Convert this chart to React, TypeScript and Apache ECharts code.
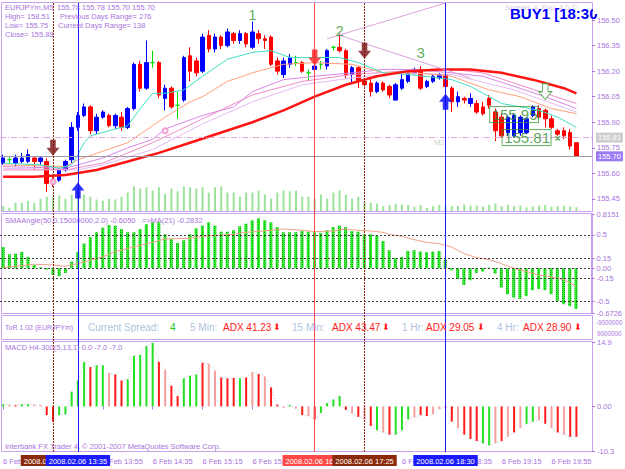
import React, { useEffect, useRef } from "react";
import * as echarts from "echarts";

const FONT = "'Liberation Sans', Arial, sans-serif";
const VIOLET = "#a874dc";
const FRAME = "#c9a2ec";
const BULL = "#0000ff";
const BEAR = "#ff0000";
const DOJI = "#00dd00";

const slotCount = 95;
const xTickLabels = ["6 Feb 12:35", "6 Feb 13:15", "6 Feb 13:55", "6 Feb 14:35", "6 Feb 15:15", "6 Feb 15:55", "6 Feb 16:35", "6 Feb 17:15", "6 Feb 17:55", "6 Feb 18:35", "6 Feb 19:15", "6 Feb 19:55"];

// [open, close, low, high]
const candles: number[][] = [
  [155.66, 155.69, 155.65, 155.71], [155.68, 155.68, 155.66, 155.70], [155.66, 155.69, 155.64, 155.71], [155.67, 155.69, 155.66, 155.72],
  [155.67, 155.71, 155.66, 155.74], [155.69, 155.67, 155.62, 155.70], [155.67, 155.69, 155.65, 155.70], [155.67, 155.54, 155.49, 155.69],
  [155.56, 155.55, 155.52, 155.58], [155.56, 155.62, 155.55, 155.63], [155.62, 155.67, 155.61, 155.68], [155.68, 155.87, 155.66, 155.90],
  [155.87, 155.94, 155.85, 155.96], [155.94, 155.99, 155.93, 156.01], [155.99, 155.85, 155.83, 156.00], [155.85, 155.93, 155.83, 155.95],
  [155.93, 155.96, 155.92, 155.97], [155.94, 155.88, 155.87, 155.95], [155.88, 155.94, 155.86, 155.95], [155.93, 155.87, 155.85, 155.96],
  [155.87, 155.98, 155.86, 155.99], [155.98, 156.24, 155.97, 156.25], [156.24, 156.10, 156.08, 156.26], [156.10, 156.25, 156.09, 156.38],
  [156.25, 156.25, 156.22, 156.32], [156.25, 156.06, 156.04, 156.26], [156.04, 156.10, 155.97, 156.12], [156.10, 155.99, 155.98, 156.11],
  [156.00, 156.00, 155.92, 156.08], [156.03, 156.28, 156.02, 156.29], [156.29, 156.20, 156.14, 156.34], [156.26, 156.19, 156.17, 156.28],
  [156.20, 156.40, 156.19, 156.42], [156.41, 156.33, 156.31, 156.44], [156.33, 156.40, 156.31, 156.42], [156.40, 156.35, 156.33, 156.41],
  [156.35, 156.43, 156.34, 156.45], [156.42, 156.38, 156.36, 156.43], [156.38, 156.42, 156.36, 156.44], [156.42, 156.36, 156.34, 156.43],
  [156.34, 156.43, 156.33, 156.49], [156.42, 156.39, 156.36, 156.44], [156.39, 156.38, 156.33, 156.41], [156.40, 156.24, 156.23, 156.41],
  [156.26, 156.20, 156.18, 156.28], [156.18, 156.26, 156.16, 156.28], [156.24, 156.28, 156.22, 156.30], [156.25, 156.25, 156.23, 156.29],
  [156.25, 156.20, 156.19, 156.26], [156.19, 156.19, 156.14, 156.21], [156.21, 156.23, 156.19, 156.24], [156.24, 156.24, 156.21, 156.26],
  [156.23, 156.32, 156.21, 156.33], [156.34, 156.34, 156.32, 156.35], [156.34, 156.32, 156.31, 156.42], [156.32, 156.18, 156.16, 156.33],
  [156.18, 156.22, 156.13, 156.23], [156.22, 156.14, 156.10, 156.23], [156.14, 156.12, 156.11, 156.15], [156.13, 156.08, 156.05, 156.16],
  [156.08, 156.13, 156.07, 156.14], [156.13, 156.09, 156.08, 156.14], [156.11, 156.06, 156.04, 156.12], [156.03, 156.12, 156.03, 156.13],
  [156.10, 156.15, 156.09, 156.20], [156.14, 156.19, 156.13, 156.20], [156.19, 156.21, 156.18, 156.22], [156.21, 156.10, 156.09, 156.23],
  [156.11, 156.14, 156.10, 156.15], [156.14, 156.17, 156.13, 156.18], [156.16, 156.18, 156.15, 156.19], [156.18, 156.11, 156.10, 156.19],
  [156.10, 156.02, 155.96, 156.11], [156.02, 156.05, 155.99, 156.08], [156.04, 156.03, 156.01, 156.05], [156.01, 156.04, 155.99, 156.07],
  [156.01, 155.96, 155.95, 156.03], [155.99, 155.95, 155.94, 156.02], [156.04, 156.00, 155.98, 156.06], [155.96, 155.85, 155.79, 155.98],
  [155.93, 155.82, 155.81, 155.95], [155.84, 155.93, 155.82, 155.94], [155.82, 155.94, 155.81, 155.95], [155.84, 155.93, 155.82, 155.94],
  [155.84, 155.92, 155.83, 155.93], [155.94, 155.99, 155.93, 156.00], [155.98, 155.93, 155.92, 156.00], [155.97, 155.92, 155.87, 155.98],
  [155.92, 155.87, 155.86, 155.94], [155.85, 155.83, 155.82, 155.86], [155.85, 155.82, 155.80, 155.87], [155.84, 155.76, 155.74, 155.86],
  [155.78, 155.70, 155.70, 155.78],
];

const volume = [12, 8, 20, 20, 25, 20, 30, 35, 33, 38, 30, 40, 55, 40, 35, 28, 25, 30, 28, 35, 45, 60, 55, 58, 50, 58, 42, 55, 48, 60, 58, 55, 58, 45, 58, 60, 45, 45, 35, 45, 45, 50, 40, 30, 45, 50, 48, 50, 35, 35, 30, 40, 30, 45, 50, 40, 30, 35, 20, 20, 18, 12, 15, 18, 16, 15, 10, 14, 8, 12, 15, 11, 12, 12, 16, 13, 13, 11, 15, 18, 12, 15, 12, 13, 9, 11, 13, 15, 11, 12, 13, 11, 9];

// moving averages as [bar, price]
const maSlow = [[0, 155.58], [5, 155.58], [10, 155.59], [15, 155.62], [20, 155.67], [25, 155.72], [30, 155.78], [35, 155.84], [40, 155.90], [45, 155.97], [50, 156.05], [55, 156.12], [60, 156.17], [65, 156.20], [70, 156.21], [75, 156.21], [80, 156.19], [85, 156.15], [90, 156.10], [92, 156.07]];
const maFast = [[0, 155.66], [6, 155.65], [9, 155.63], [11, 155.65], [12, 155.71], [13, 155.78], [14, 155.82], [16, 155.84], [20, 155.88], [22, 155.98], [24, 156.07], [26, 156.07], [29, 156.09], [32, 156.17], [36, 156.27], [40, 156.31], [43, 156.32], [46, 156.28], [50, 156.28], [54, 156.28], [57, 156.25], [61, 156.19], [65, 156.18], [70, 156.16], [72, 156.15], [75, 156.11], [80, 156.01], [86, 155.97], [89, 155.93], [92, 155.87]];
const maMid = [[0, 155.65], [10, 155.64], [12, 155.68], [16, 155.73], [20, 155.78], [22, 155.83], [24, 155.88], [26, 155.93], [30, 156.02], [32, 156.05], [36, 156.14], [40, 156.19], [45, 156.24], [50, 156.25], [56, 156.24], [61, 156.19], [66, 156.19], [72, 156.17], [78, 156.09], [83, 156.05], [88, 155.98], [92, 155.95]];
const maViolet = [[0, 155.64], [10, 155.63], [16, 155.69], [20, 155.75], [24, 155.80], [26, 155.86], [32, 155.94], [37, 155.99], [40, 156.08], [45, 156.15], [50, 156.17], [56, 156.19], [61, 156.21], [66, 156.21], [72, 156.19], [77, 156.17], [82, 156.11], [87, 156.05], [92, 155.98]];
const maPink = [[0, 155.62], [10, 155.62], [16, 155.66], [24, 155.78], [32, 155.92], [40, 156.06], [48, 156.14], [56, 156.18], [64, 156.20], [72, 156.21], [77, 156.19], [82, 156.13], [87, 156.07], [92, 156.01]];
const maPlum = [[0, 155.63], [12, 155.62], [16, 155.65], [24, 155.74], [32, 155.89], [40, 156.02], [48, 156.12], [56, 156.16], [64, 156.19], [72, 156.18], [82, 156.09], [92, 155.96]];
const trendUp = [[52, 156.39], [71, 156.60]];
const trendDown = [[54, 156.41], [75, 156.16]];

const arrowsDownDark = [[8, 155.75], [58, 156.32]];
const arrowsDownRed = [[50, 156.28]];
const arrowsUpBlue = [[12, 155.50], [71, 156.02]];
const arrowsDownHollow = [[87, 156.08]];
const waveLabels = [{ name: "1", value: [40, 156.53] }, { name: "2", value: [54, 156.44] }, { name: "3", value: [67, 156.31] }];
const priceBoxes = [{ name: "155.95", value: [77.6, 155.945] }, { name: "155.81", value: [79.8, 155.81] }];
const maDots = [[8, 155.55], [26, 155.85]];

const mainTicks = [155.45, 155.60, 155.75, 155.90, 156.05, 156.20, 156.35, 156.50];
const bidPrice = 155.70;
const levelPrice = 155.81;

const smaAngle = [0.32, 0.21, 0.22, 0.245, 0.17, 0.05, 0.015, -0.02, -0.10, -0.12, -0.07, 0.10, 0.245, 0.37, 0.47, 0.54, 0.61, 0.65, 0.64, 0.59, 0.54, 0.54, 0.59, 0.66, 0.69, 0.69, 0.51, 0.44, 0.38, 0.42, 0.51, 0.60, 0.64, 0.69, 0.64, 0.55, 0.55, 0.57, 0.63, 0.67, 0.72, 0.75, 0.72, 0.69, 0.62, 0.54, 0.54, 0.54, 0.56, 0.55, 0.54, 0.53, 0.57, 0.62, 0.64, 0.62, 0.56, 0.55, 0.51, 0.51, 0.49, 0.41, 0.27, 0.15, 0.17, 0.26, 0.27, 0.25, 0.24, 0.25, 0.26, 0.13, -0.03, -0.16, -0.25, -0.18, -0.07, -0.05, 0.01, -0.08, -0.29, -0.39, -0.44, -0.46, -0.42, -0.33, -0.31, -0.33, -0.39, -0.49, -0.54, -0.57, -0.61];
const smaMA = [[0, 0.01], [1, 0.02], [5, 0.06], [8, 0.05], [10, 0.03], [12, 0.07], [14, 0.12], [16, 0.17], [18, 0.25], [21, 0.32], [24, 0.39], [26, 0.44], [30, 0.45], [32, 0.48], [34, 0.49], [37, 0.51], [39, 0.54], [42, 0.56], [45, 0.59], [48, 0.57], [50, 0.55], [53, 0.56], [55, 0.59], [57, 0.57], [59, 0.56], [61, 0.54], [62, 0.51], [64, 0.48], [66, 0.43], [68, 0.39], [70, 0.37], [72, 0.32], [74, 0.22], [76, 0.16], [78, 0.13], [80, 0.07], [82, 0.0], [84, -0.05], [86, -0.10], [88, -0.13], [90, -0.17], [91, -0.22], [92, -0.28]];
const smaLevels = [0.5, 0.15, 0, -0.15, -0.5];
const smaTicks = [0.8151, 0.5, 0.15, 0, -0.15, -0.5, -0.6726];
const smaTickText = ["0.8151", "0.5", "0.15", "0.00", "-0.15", "-0.5", "-0.6726"];

const macd = [0.5, 0.4, 0.3, 0.5, 0.5, 0.4, 0.3, -2.0, -3.5, -2.0, -1.8, 3.4, 6.0, 10.3, 9.1, 9.5, 9.5, 7.7, 7.4, 6.0, 6.3, 11.7, 11.9, 14.0, 14.7, 10.3, 8.5, 4.8, 2.4, 6.5, 7.1, 7.4, 10.1, 9.9, 8.3, 6.7, 6.5, 6.6, 6.5, 6.7, 7.9, 7.5, 6.9, 4.4, 0.4, -0.3, 0.3, -0.5, -2.0, -2.2, -3.0, -1.5, 0.8, 1.6, 2.4, -0.8, -1.6, -2.4, -3.0, -4.5, -5.5, -6.0, -6.5, -6.5, -5.5, -3.0, -2.5, -2.0, -2.2, -1.8, -0.6, -0.2, -3.5, -5.0, -6.5, -7.5, -8.0, -8.5, -9.0, -8.5, -8.0, -7.0, -6.0, -5.0, -4.0, -3.5, -3.2, -4.0, -5.0, -6.0, -6.5, -7.0, -7.0];
const macdColor = "GPRGGPPRRGGGGGRGGPRRGGGGGRPRRGGGRPPRRRGRPRPRRPGPRPRGGGGRPRPRGPRGGGPRRPPRRPRRRGGPRPRPGGPRPRPRR";
const macdTicks = [14.9, 0, -10.3];
const macdTickText = ["14.9", "0.00", "-10.3"];

const vLines = [
  { bar: 8, color: "#8b2a0a", type: [2, 1], text: "2008.02.06 13:15" },
  { bar: 12, color: "#1a1aff", type: "solid", text: "2008.02.06 13:35" },
  { bar: 50, color: "#ff4848", type: "solid", text: "2008.02.06 16:45" },
  { bar: 58, color: "#8b2a0a", type: [2, 1], text: "2008.02.06 17:25" },
  { bar: 71, color: "#1a1aff", type: "solid", text: "2008.02.06 18:30" },
];

const DOWN = "path://M4,0 L10,0 L10,8 L14,8 L7,16 L0,8 L4,8 Z";
const UP = "path://M7,0 L14,8 L10,8 L10,16 L4,16 L4,8 L0,8 Z";

function txt(x: number, y: number, text: string, color: string, size = 7.5, extra: any = {}) {
  return { type: "text", x, y, z: 50, silent: true, style: { text, fill: color, font: `${extra.weight || "normal"} ${size}px ${extra.family || FONT}`, textVerticalAlign: "middle", textAlign: extra.align || "left" } };
}

export default function App() {
  const ref = useRef<HTMLDivElement>(null);
  useEffect(() => {
    const chart = echarts.init(ref.current!, null, { renderer: "svg" });
    const cats = Array.from({ length: slotCount }, (_, i) => String(i));
    const grids = [
      { left: 0, width: 592, top: 3, height: 208 },
      { left: 0, width: 592, top: 170, height: 41 },
      { left: 0, width: 592, top: 214, height: 99 },
      { left: 0, width: 592, top: 342, height: 109 },
      { left: 0, width: 592, top: 3, height: 449 },
    ];
    const xAxis = grids.map((_, gi) => ({
      type: "category", gridIndex: gi, data: cats, boundaryGap: true,
      show: gi === 3,
      axisLine: { show: false },
      axisTick: { show: gi === 3, interval: 7, alignWithLabel: true, length: 3, lineStyle: { color: VIOLET } },
      axisLabel: {
        show: gi === 3, interval: 7, align: "left", margin: 6, color: VIOLET, fontSize: 7.5, fontFamily: FONT,
        formatter: (_v: string, idx: number) => xTickLabels[idx / 8] || "",
      },
      splitLine: { show: false },
    }));
    const axisCommon = (gi: number, min: number, max: number, ticks: number[] | null, fmt: (v: number) => string, show = true) => ({
      type: "value", gridIndex: gi, position: "right", min, max, show,
      axisLine: { show: true, lineStyle: { color: FRAME } },
      axisTick: ticks ? { show: true, length: 3, customValues: ticks, lineStyle: { color: VIOLET } } : { show: false },
      axisLabel: ticks ? { show: true, customValues: ticks, formatter: fmt, color: VIOLET, fontSize: 7.5, fontFamily: FONT, margin: 5 } : { show: false },
      splitLine: { show: false },
    });
    const yAxis = [
      axisCommon(0, 155.379, 156.60, mainTicks, (v) => v.toFixed(2)),
      { type: "value", gridIndex: 1, min: 0, max: 100, show: false },
      axisCommon(2, -0.6726, 0.8151, smaTicks, (v) => smaTickText[smaTicks.indexOf(v)] ?? ""),
      axisCommon(3, -10.3, 14.9, macdTicks, (v) => macdTickText[macdTicks.indexOf(v)] ?? ""),
      { type: "value", gridIndex: 4, min: 0, max: 1, show: false },
    ];
    const line = (data: number[][], color: string, width = 1, extra: any = {}) => ({
      type: "line", xAxisIndex: 0, yAxisIndex: 0, data, symbol: "none", silent: true,
      lineStyle: { color, width, ...extra }, z: 3,
    });
    const arrowSeries = (data: number[][], symbol: string, color: string, hollow = false) => ({
      type: "scatter", xAxisIndex: 0, yAxisIndex: 0, data, symbol, symbolSize: [13, 16], silent: true, z: 6,
      itemStyle: hollow ? { color: "#ffffff", borderColor: "#2e9b2e", borderWidth: 1 } : { color },
    });
    const macdColors: Record<string, string> = { G: "#22e022", R: "#ff1a1a", P: "#f4a0a0" };

    const series: any[] = [
      {
        type: "candlestick", xAxisIndex: 0, yAxisIndex: 0, barWidth: 4, silent: true, z: 2,
        itemStyle: { color: BULL, color0: BEAR, borderColor: BULL, borderColor0: BEAR, borderWidth: 1 },
        data: candles.map((c) => c[0] === c[1]
          ? { value: c, itemStyle: { color: DOJI, color0: DOJI, borderColor: DOJI, borderColor0: DOJI } }
          : c),
        markLine: {
          silent: true, symbol: "none", animation: false,
          data: [
            { yAxis: levelPrice, lineStyle: { color: "#e2a8dc", type: [6, 2, 1, 2], width: 1 },
              label: { show: true, position: "end", distance: 4, formatter: levelPrice.toFixed(2), color: "#ffffff", backgroundColor: "#cdcdcd", padding: [1, 2], fontSize: 7.5, fontFamily: FONT } },
            { yAxis: bidPrice, lineStyle: { color: "#9a9aaa", type: "solid", width: 1 },
              label: { show: true, position: "end", distance: 4, formatter: bidPrice.toFixed(2), color: "#ffffff", backgroundColor: "#9b7cf4", padding: [1, 2], fontSize: 7.5, fontFamily: FONT } },
          ],
        },
      },
      line(maPlum, "#e6b8f4", 1),
      line(maPink, "#f08cc8", 1),
      line(maViolet, "#d886e8", 1),
      line(maMid, "#ffa07a", 1),
      line(maFast, "#40e0c0", 1),
      line(maSlow, "#ff1414", 2.5),
      line(trendUp, "#dda0dd", 1),
      line(trendDown, "#dda0dd", 1),
      arrowSeries(arrowsDownDark, DOWN, "#7a1010"),
      arrowSeries(arrowsDownRed, DOWN, "#ff2020"),
      arrowSeries(arrowsUpBlue, UP, "#0000ff"),
      arrowSeries(arrowsDownHollow, DOWN, "#2e9b2e", true),
      {
        type: "scatter", xAxisIndex: 0, yAxisIndex: 0, data: maDots, symbol: "emptyCircle", symbolSize: 5, silent: true, z: 5,
        itemStyle: { color: "#f08cc8" },
      },
      {
        type: "scatter", xAxisIndex: 0, yAxisIndex: 0, data: waveLabels, symbolSize: 1, silent: true, z: 7,
        itemStyle: { color: "transparent" },
        label: { show: true, position: "inside", formatter: "{b}", color: "#339933", fontSize: 15, fontFamily: FONT },
      },
      {
        type: "scatter", xAxisIndex: 0, yAxisIndex: 0, data: priceBoxes, symbolSize: 1, silent: true, z: 7,
        itemStyle: { color: "transparent" },
        label: { show: true, position: "right", distance: 0, formatter: "{b}", color: "#2e8b2e", fontSize: 15, fontFamily: FONT, borderColor: "#3a9a3a", borderWidth: 1, padding: [1, 1, 0, 2] },
      },
      {
        type: "scatter", xAxisIndex: 0, yAxisIndex: 0, silent: true, z: 7, symbolSize: 1,
        data: [
          { name: "×", value: [89, 155.81] },
          { name: "M2", value: [70, 155.78], label: { color: "#c4c4c4", fontWeight: "normal", fontSize: 8 } },
        ],
        itemStyle: { color: "transparent" },
        label: { show: true, position: "inside", formatter: "{b}", fontFamily: FONT, color: "#2e8b2e", fontSize: 11, fontWeight: "bold" },
      },
      {
        type: "bar", xAxisIndex: 1, yAxisIndex: 1, data: volume, barWidth: 2, silent: true, z: 1,
        itemStyle: { color: "#9be39b" },
      },
      {
        type: "bar", xAxisIndex: 2, yAxisIndex: 2, data: smaAngle, barWidth: 3, silent: true,
        itemStyle: {
          color: "#2cf02c",
          decal: { symbol: "rect", symbolSize: 1, dashArrayX: [1, 1], dashArrayY: [1, 1], color: "rgba(0,40,0,0.4)" },
        },
        markLine: {
          silent: true, symbol: "none", animation: false, label: { show: false },
          lineStyle: { color: "#3a3a3a", type: [2, 2], width: 1 },
          data: smaLevels.map((v) => ({ yAxis: v })),
        },
      },
      {
        type: "line", xAxisIndex: 2, yAxisIndex: 2, data: smaMA, symbol: "none", silent: true, z: 4,
        lineStyle: { color: "#f4a088", width: 1 },
      },
      {
        type: "bar", xAxisIndex: 3, yAxisIndex: 3, barWidth: 2, silent: true,
        data: macd.map((v, i) => ({ value: v, itemStyle: { color: macdColors[macdColor[i]] } })),
      },
      {
        type: "line", xAxisIndex: 3, yAxisIndex: 3, data: macd, symbol: "none", silent: true, z: 1,
        lineStyle: { color: "#c8c8d8", width: 1, type: [1, 2] },
      },
      {
        type: "line", xAxisIndex: 4, yAxisIndex: 4, data: [[0, 0.5]], symbol: "none", silent: true, z: 8,
        lineStyle: { width: 0 },
        markLine: {
          silent: true, symbol: "none", animation: false,
          data: vLines.map((l) => ({
            xAxis: l.bar,
            lineStyle: { color: l.color, type: l.type, width: 1 },
            label: { show: true, position: "start", distance: 3, formatter: l.text, color: "#ffffff", backgroundColor: l.color, padding: [2, 3, 1, 3], fontSize: 7.5, fontFamily: FONT },
          })),
        },
      },
    ];

    const frames = [[2.5, 211.5], [213.5, 313.5], [315.5, 339.5], [341.5, 451.5]].map(([t, b]) => ({
      type: "rect", z: 0, silent: true, shape: { x: 1.5, y: t, width: 591, height: b - t },
      style: { fill: "none", stroke: FRAME, lineWidth: 1 },
    }));
    const ty = 327;
    const graphic: any[] = [
      ...frames,
      txt(505, 7, "Spread: 4  Exp: 4.0 ©", "#d9c9ea", 7.5),
      { type: "text", x: 510, y: 13, z: 60, silent: true, style: { text: "BUY1 [18:30", fill: "#0000ff", font: `bold 15px ${FONT}`, textVerticalAlign: "middle" } },
      { type: "rect", z: 61, silent: true, shape: { x: 593, y: 0, width: 32, height: 14 }, style: { fill: "#ffffff" } },
      txt(5, 7, "EURJPYm,M5", VIOLET), txt(57, 7, "155.78 155.78 155.70 155.70", VIOLET),
      txt(5, 16, "High= 158.51", VIOLET), txt(60, 16, "Previous Days Range= 276", VIOLET),
      txt(5, 25, "Low= 155.75", VIOLET), txt(58, 25, "Current Days Range= 138", VIOLET),
      txt(5, 34, "Close= 155.88", VIOLET),
      txt(5, 220, "SMAAngle(50,0.15000000,2.0) -0.6050   =>MA(21) -0.2832", VIOLET),
      txt(5, ty, "ToR 1.02 (EURJPYm)", VIOLET, 7),
      txt(88, ty, "Current Spread:", "#b0c4de", 10),
      txt(170, ty, "4", "#22cc22", 10),
      txt(190, ty, "5 Min:", "#b0c4de", 10), txt(223, ty, "ADX 41.23", "#ff2020", 10), txt(273, ty, "⬇", "#ff2020", 9, { family: "DejaVu Sans" }),
      txt(292, ty, "15 Min:", "#b0c4de", 10), txt(332, ty, "ADX 43.47", "#ff2020", 10), txt(382, ty, "⬇", "#ff2020", 9, { family: "DejaVu Sans" }),
      txt(402, ty, "1 Hr:", "#b0c4de", 10), txt(426, ty, "ADX 29.05", "#ff2020", 10), txt(477, ty, "⬇", "#ff2020", 9, { family: "DejaVu Sans" }),
      txt(497, ty, "4 Hr:", "#b0c4de", 10), txt(523, ty, "ADX 28.90", "#ff2020", 10), txt(574, ty, "⬇", "#ff2020", 9, { family: "DejaVu Sans" }),
      txt(596, 322, "-9000000", VIOLET, 6.3), txt(597, 333, "9000000", VIOLET, 6.3),
      txt(5, 347, "MACD H4-300(5,13,1) 0.0 -7.0 -7.0", VIOLET),
      txt(5, 446, "Interbank FX Trader 4, © 2001-2007 MetaQuotes Software Corp.", VIOLET),
    ];

    chart.setOption({
      animation: false,
      backgroundColor: "#ffffff",
      textStyle: { fontFamily: FONT },
      grid: grids,
      xAxis,
      yAxis,
      series,
      graphic,
    });
    return () => chart.dispose();
  }, []);
  return <div ref={ref} style={{ position: "absolute", left: 0, top: 0, width: 625, height: 469 }} />;
}
